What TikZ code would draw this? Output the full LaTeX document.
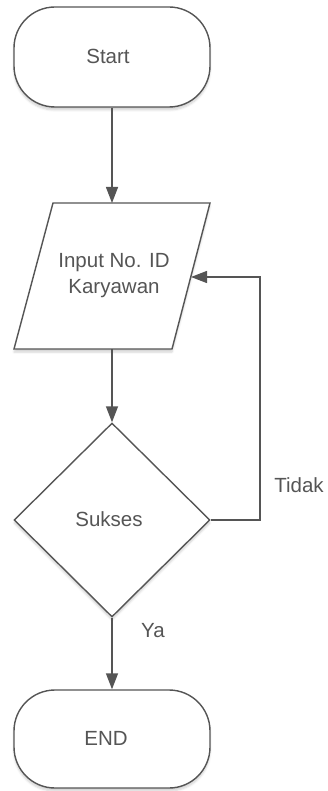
\documentclass[tikz,border=0pt]{standalone}
\usepackage{fontspec}
\setmainfont{Liberation Sans}
\usetikzlibrary{shapes.geometric,arrows.meta,shadows.blur}
\definecolor{ln}{HTML}{555555}
\definecolor{tx}{HTML}{555555}
\begin{document}
\begin{tikzpicture}[x=1pt,y=-1pt,
  shade/.style={blur shadow={shadow xshift=0pt,shadow yshift=-3pt,shadow opacity=18,shadow blur steps=6}},
  term/.style={draw=ln,line width=1.4pt,fill=white,rounded corners=41pt,minimum width=196pt,inner sep=0pt,shade},
  dec/.style={diamond,draw=ln,line width=1.4pt,fill=white,aspect=1,minimum width=196pt,minimum height=194pt,inner sep=0pt,shade},
  lbl/.style={text=tx,font=\fontsize{20.5}{26}\selectfont,align=center},
  arr/.style={draw=ln,line width=1.4pt,-{Triangle[length=16pt,width=12pt]}}]
\useasboundingbox (0,0) rectangle (328,791);
% Start
\node[term,minimum height=100pt] (start) at (112,57) {};
\node[lbl] (starttxt) at (108,56) {Start};
% Input parallelogram
\coordinate (p1) at (53,203);
\coordinate (p2) at (210,203);
\coordinate (p3) at (172,349);
\coordinate (p4) at (14,349);
\draw[draw=ln,line width=1.4pt,fill=white,shade] (p1) -- (p2) -- (p3) -- (p4) -- cycle;
\coordinate (intop) at (112,203);
\coordinate (inbot) at (112,349);
\coordinate (inright) at (191,277);
\node[lbl] (input) at (114,276) {Input No. ID\\Karyawan};
% Decision
\node[dec] (sukses) at (112,520) {};
\node[lbl] (sukstxt) at (109,519) {Sukses};
% End
\node[term,minimum height=98pt] (end) at (112,739) {};
\node[lbl] (endtxt) at (106,738) {END};
% connectors
\draw[arr] (start.south) -- (intop);
\draw[arr] (inbot) -- (sukses.north);
\draw[arr] (sukses.south) -- (end.north);
\coordinate (c1) at (260,520);
\coordinate (c2) at (260,277);
\draw[arr,line join=miter] (sukses.east) -- (c1) -- (c2) -- (inright);
% labels
\node[lbl] (tidak) at (299,485) {Tidak};
\node[lbl] (ya) at (153,631) {Ya};
\end{tikzpicture}
\end{document}
